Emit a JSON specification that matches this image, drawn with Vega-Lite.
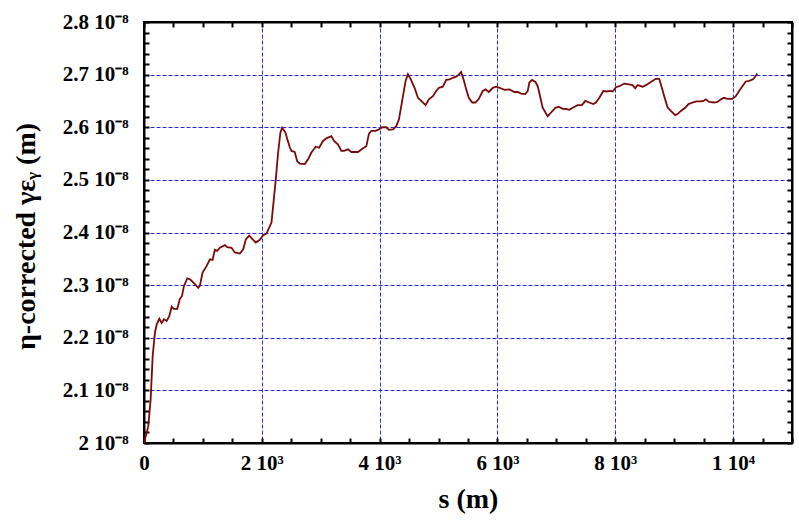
{
  "$schema": "https://vega.github.io/schema/vega-lite/v6.json",
  "width": 648,
  "height": 421,
  "autosize": "none",
  "padding": {"left": 144, "top": 22, "right": 7, "bottom": 79},
  "background": "white",
  "config": {
    "view": {"stroke": "black", "strokeWidth": 2},
    "font": "Liberation Serif",
    "axis": {
      "domainColor": "black",
      "domainWidth": 2,
      "tickColor": "black",
      "tickWidth": 2,
      "tickSize": -5,
      "labelFont": "Liberation Serif",
      "labelFontWeight": "bold",
      "labelFontSize": 21,
      "labelColor": "black",
      "labelOverlap": false,
      "labelFlush": false,
      "labelBound": false,
      "titleFont": "Liberation Serif",
      "titleFontWeight": "bold",
      "titleFontSize": 28,
      "titleColor": "black",
      "gridColor": "#2a2ae0",
      "gridDash": [4, 2],
      "gridWidth": 1
    }
  },
  "data": {
    "values": [
      {"s": 0, "eps": 2.000}, {"s": 73, "eps": 2.032}, {"s": 113, "eps": 2.083}, {"s": 147, "eps": 2.165},
      {"s": 186, "eps": 2.210}, {"s": 215, "eps": 2.225}, {"s": 260, "eps": 2.236}, {"s": 300, "eps": 2.228},
      {"s": 339, "eps": 2.235}, {"s": 384, "eps": 2.232}, {"s": 429, "eps": 2.241}, {"s": 469, "eps": 2.259},
      {"s": 508, "eps": 2.255}, {"s": 565, "eps": 2.255}, {"s": 610, "eps": 2.274}, {"s": 644, "eps": 2.279},
      {"s": 678, "eps": 2.298}, {"s": 734, "eps": 2.313}, {"s": 780, "eps": 2.311}, {"s": 836, "eps": 2.305},
      {"s": 921, "eps": 2.295}, {"s": 949, "eps": 2.299}, {"s": 994, "eps": 2.324}, {"s": 1062, "eps": 2.336},
      {"s": 1119, "eps": 2.349}, {"s": 1164, "eps": 2.348}, {"s": 1203, "eps": 2.367}, {"s": 1243, "eps": 2.365},
      {"s": 1288, "eps": 2.371}, {"s": 1373, "eps": 2.376}, {"s": 1412, "eps": 2.372}, {"s": 1486, "eps": 2.371},
      {"s": 1542, "eps": 2.362}, {"s": 1627, "eps": 2.360}, {"s": 1684, "eps": 2.368}, {"s": 1729, "eps": 2.387},
      {"s": 1785, "eps": 2.394}, {"s": 1853, "eps": 2.386}, {"s": 1898, "eps": 2.381}, {"s": 1966, "eps": 2.386},
      {"s": 2022, "eps": 2.395}, {"s": 2079, "eps": 2.398}, {"s": 2164, "eps": 2.419}, {"s": 2192, "eps": 2.450},
      {"s": 2237, "eps": 2.501}, {"s": 2277, "eps": 2.552}, {"s": 2316, "eps": 2.590}, {"s": 2345, "eps": 2.599},
      {"s": 2401, "eps": 2.590}, {"s": 2430, "eps": 2.578}, {"s": 2475, "eps": 2.562}, {"s": 2503, "eps": 2.555},
      {"s": 2559, "eps": 2.553}, {"s": 2599, "eps": 2.536}, {"s": 2644, "eps": 2.531}, {"s": 2729, "eps": 2.530},
      {"s": 2785, "eps": 2.539}, {"s": 2842, "eps": 2.552}, {"s": 2915, "eps": 2.563}, {"s": 2972, "eps": 2.561},
      {"s": 3040, "eps": 2.574}, {"s": 3096, "eps": 2.579}, {"s": 3181, "eps": 2.583}, {"s": 3226, "eps": 2.574},
      {"s": 3294, "eps": 2.567}, {"s": 3350, "eps": 2.555}, {"s": 3395, "eps": 2.555}, {"s": 3463, "eps": 2.558},
      {"s": 3520, "eps": 2.553}, {"s": 3633, "eps": 2.553}, {"s": 3706, "eps": 2.559}, {"s": 3774, "eps": 2.564},
      {"s": 3819, "eps": 2.588}, {"s": 3859, "eps": 2.593}, {"s": 3932, "eps": 2.593}, {"s": 3989, "eps": 2.596},
      {"s": 4045, "eps": 2.600}, {"s": 4113, "eps": 2.600}, {"s": 4158, "eps": 2.595}, {"s": 4226, "eps": 2.596},
      {"s": 4283, "eps": 2.602}, {"s": 4328, "eps": 2.615}, {"s": 4396, "eps": 2.659}, {"s": 4441, "eps": 2.688},
      {"s": 4480, "eps": 2.701}, {"s": 4525, "eps": 2.692}, {"s": 4593, "eps": 2.675}, {"s": 4650, "eps": 2.656},
      {"s": 4706, "eps": 2.650}, {"s": 4780, "eps": 2.642}, {"s": 4836, "eps": 2.653}, {"s": 4904, "eps": 2.659},
      {"s": 4960, "eps": 2.669}, {"s": 5006, "eps": 2.675}, {"s": 5073, "eps": 2.677}, {"s": 5130, "eps": 2.690},
      {"s": 5186, "eps": 2.691}, {"s": 5243, "eps": 2.694}, {"s": 5299, "eps": 2.696}, {"s": 5345, "eps": 2.700},
      {"s": 5384, "eps": 2.705}, {"s": 5424, "eps": 2.691}, {"s": 5469, "eps": 2.672}, {"s": 5514, "eps": 2.656},
      {"s": 5571, "eps": 2.647}, {"s": 5627, "eps": 2.647}, {"s": 5684, "eps": 2.654}, {"s": 5751, "eps": 2.669},
      {"s": 5797, "eps": 2.672}, {"s": 5853, "eps": 2.667}, {"s": 5921, "eps": 2.675}, {"s": 5978, "eps": 2.677},
      {"s": 6034, "eps": 2.675}, {"s": 6119, "eps": 2.671}, {"s": 6203, "eps": 2.672}, {"s": 6288, "eps": 2.667},
      {"s": 6345, "eps": 2.667}, {"s": 6401, "eps": 2.664}, {"s": 6475, "eps": 2.663}, {"s": 6514, "eps": 2.669},
      {"s": 6542, "eps": 2.685}, {"s": 6588, "eps": 2.690}, {"s": 6644, "eps": 2.686}, {"s": 6684, "eps": 2.678},
      {"s": 6723, "eps": 2.659}, {"s": 6768, "eps": 2.637}, {"s": 6814, "eps": 2.628}, {"s": 6853, "eps": 2.621},
      {"s": 6910, "eps": 2.628}, {"s": 6983, "eps": 2.637}, {"s": 7039, "eps": 2.639}, {"s": 7107, "eps": 2.635},
      {"s": 7164, "eps": 2.635}, {"s": 7220, "eps": 2.633}, {"s": 7277, "eps": 2.637}, {"s": 7361, "eps": 2.642},
      {"s": 7435, "eps": 2.642}, {"s": 7492, "eps": 2.650}, {"s": 7559, "eps": 2.647}, {"s": 7627, "eps": 2.644},
      {"s": 7672, "eps": 2.647}, {"s": 7729, "eps": 2.656}, {"s": 7797, "eps": 2.669}, {"s": 7853, "eps": 2.668},
      {"s": 7910, "eps": 2.669}, {"s": 7955, "eps": 2.668}, {"s": 8012, "eps": 2.676}, {"s": 8068, "eps": 2.678},
      {"s": 8153, "eps": 2.683}, {"s": 8209, "eps": 2.682}, {"s": 8294, "eps": 2.680}, {"s": 8339, "eps": 2.674},
      {"s": 8378, "eps": 2.680}, {"s": 8463, "eps": 2.677}, {"s": 8520, "eps": 2.680}, {"s": 8604, "eps": 2.686},
      {"s": 8689, "eps": 2.692}, {"s": 8746, "eps": 2.692}, {"s": 8791, "eps": 2.675}, {"s": 8831, "eps": 2.659},
      {"s": 8887, "eps": 2.638}, {"s": 8944, "eps": 2.631}, {"s": 9017, "eps": 2.623}, {"s": 9056, "eps": 2.625},
      {"s": 9114, "eps": 2.631}, {"s": 9186, "eps": 2.637}, {"s": 9243, "eps": 2.644}, {"s": 9310, "eps": 2.647},
      {"s": 9378, "eps": 2.649}, {"s": 9453, "eps": 2.649}, {"s": 9497, "eps": 2.650}, {"s": 9537, "eps": 2.653},
      {"s": 9593, "eps": 2.648}, {"s": 9678, "eps": 2.647}, {"s": 9734, "eps": 2.648}, {"s": 9792, "eps": 2.653},
      {"s": 9847, "eps": 2.656}, {"s": 9903, "eps": 2.654}, {"s": 9988, "eps": 2.654}, {"s": 10046, "eps": 2.659},
      {"s": 10102, "eps": 2.669}, {"s": 10158, "eps": 2.678}, {"s": 10215, "eps": 2.687}, {"s": 10271, "eps": 2.688},
      {"s": 10339, "eps": 2.691}, {"s": 10373, "eps": 2.696}, {"s": 10412, "eps": 2.702}
    ]
  },
  "resolve": {"scale": {"x": "independent", "y": "independent"}, "axis": {"x": "independent", "y": "independent"}},
  "layer": [
    {
      "mark": {"type": "line", "color": "#7a0a0a", "strokeWidth": 1.8, "clip": true},
      "encoding": {
        "x": {
          "field": "s", "type": "quantitative",
          "scale": {"domain": [0, 11000], "nice": false, "zero": false},
          "axis": {
            "orient": "bottom",
            "values": [0, 500, 1000, 1500, 2000, 2500, 3000, 3500, 4000, 4500, 5000, 5500, 6000, 6500, 7000, 7500, 8000, 8500, 9000, 9500, 10000, 10500, 11000],
            "labelExpr": "datum.value % 2000 === 0 ? (datum.value === 0 ? '0' : (datum.value < 10000 ? (datum.value / 1000) + ' 10³' : (datum.value / 10000) + ' 10⁴')) : ''",
            "labelPadding": 14,
            "grid": true,
            "gridOpacity": {"condition": {"test": "datum.value % 2000 === 0 && datum.value > 0", "value": 1}, "value": 0},
            "title": "s (m)",
            "titleY": 56,
            "titleBaseline": "middle"
          }
        },
        "y": {
          "field": "eps", "type": "quantitative",
          "scale": {"domain": [2.0, 2.8], "nice": false, "zero": false},
          "axis": {
            "orient": "left",
            "values": [2.0, 2.02, 2.04, 2.06, 2.08, 2.1, 2.12, 2.14, 2.16, 2.18, 2.2, 2.22, 2.24, 2.26, 2.28, 2.3, 2.32, 2.34, 2.36, 2.38, 2.4, 2.42, 2.44, 2.46, 2.48, 2.5, 2.52, 2.54, 2.56, 2.58, 2.6, 2.62, 2.64, 2.66, 2.68, 2.7, 2.72, 2.74, 2.76, 2.78, 2.8],
            "labelExpr": "abs(datum.value * 10 - round(datum.value * 10)) < 0.000001 ? format(datum.value, '.1~f') + ' 10⁻⁸' : ''",
            "labelPadding": 21,
            "grid": true,
            "gridOpacity": {"condition": {"test": "abs(datum.value * 10 - round(datum.value * 10)) < 0.000001 && datum.value > 2.01 && datum.value < 2.79", "value": 1}, "value": 0},
            "title": "η-corrected γεᵧ (m)",
            "titleX": -118,
            "titleY": 214,
            "titleBaseline": "middle"
          }
        }
      }
    },
    {
      "mark": {"type": "line", "opacity": 0},
      "encoding": {
        "x": {
          "field": "s", "type": "quantitative",
          "scale": {"domain": [0, 11000], "nice": false, "zero": false},
          "axis": {
            "orient": "top",
            "values": [0, 500, 1000, 1500, 2000, 2500, 3000, 3500, 4000, 4500, 5000, 5500, 6000, 6500, 7000, 7500, 8000, 8500, 9000, 9500, 10000, 10500, 11000],
            "labels": false, "grid": false, "title": null
          }
        },
        "y": {
          "field": "eps", "type": "quantitative",
          "scale": {"domain": [2.0, 2.8], "nice": false, "zero": false},
          "axis": {
            "orient": "right",
            "values": [2.0, 2.02, 2.04, 2.06, 2.08, 2.1, 2.12, 2.14, 2.16, 2.18, 2.2, 2.22, 2.24, 2.26, 2.28, 2.3, 2.32, 2.34, 2.36, 2.38, 2.4, 2.42, 2.44, 2.46, 2.48, 2.5, 2.52, 2.54, 2.56, 2.58, 2.6, 2.62, 2.64, 2.66, 2.68, 2.7, 2.72, 2.74, 2.76, 2.78, 2.8],
            "labels": false, "grid": false, "title": null
          }
        }
      }
    }
  ]
}
